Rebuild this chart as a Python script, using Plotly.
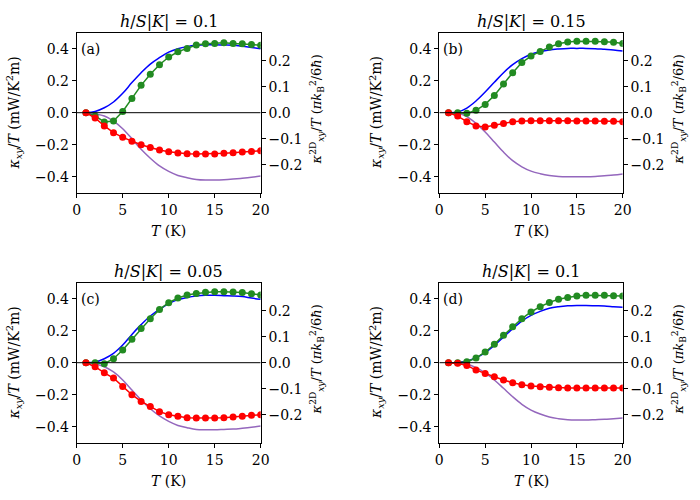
import plotly.graph_objects as go

T = list(range(1, 21))
T_span = [0, 20]
zero_level = [0, 0]

titles = ["<i>h</i>/<i>S</i>|<i>K</i>| = 0.1", "<i>h</i>/<i>S</i>|<i>K</i>| = 0.15",
          "<i>h</i>/<i>S</i>|<i>K</i>| = 0.05", "<i>h</i>/<i>S</i>|<i>K</i>| = 0.1"]
panel_labels = ["(a)", "(b)", "(c)", "(d)"]
x_ticks = [0, 5, 10, 15, 20]
left_ticks = [-0.4, -0.2, 0.0, 0.2, 0.4]
right_ticks = [-0.2, -0.1, 0.0, 0.1, 0.2]

green_a = [0, -0.02, -0.058, -0.052, 0.008, 0.088, 0.171, 0.24, 0.30, 0.348, 0.381, 0.402, 0.423, 0.431, 0.433, 0.437, 0.433, 0.431, 0.427, 0.421]
red_a = [0, -0.033, -0.083, -0.125, -0.154, -0.179, -0.2, -0.217, -0.233, -0.244, -0.252, -0.256, -0.258, -0.258, -0.258, -0.254, -0.25, -0.246, -0.242, -0.238]
blue_a = [0, 0.008, 0.031, 0.067, 0.121, 0.188, 0.25, 0.304, 0.344, 0.379, 0.40, 0.413, 0.421, 0.425, 0.425, 0.423, 0.421, 0.415, 0.408, 0.40]
purple_a = [0, -0.008, -0.021, -0.052, -0.10, -0.163, -0.229, -0.285, -0.333, -0.367, -0.392, -0.406, -0.417, -0.421, -0.421, -0.419, -0.415, -0.41, -0.404, -0.396]

green_b = [0, 0, -0.004, 0.015, 0.052, 0.108, 0.179, 0.25, 0.313, 0.354, 0.383, 0.41, 0.431, 0.442, 0.446, 0.446, 0.446, 0.444, 0.44, 0.433]
red_b = [0, -0.021, -0.056, -0.083, -0.09, -0.079, -0.067, -0.056, -0.052, -0.05, -0.05, -0.05, -0.05, -0.05, -0.052, -0.052, -0.052, -0.054, -0.054, -0.056]
blue_b = [0, 0.004, 0.029, 0.073, 0.129, 0.19, 0.25, 0.30, 0.338, 0.365, 0.381, 0.392, 0.398, 0.402, 0.402, 0.402, 0.40, 0.396, 0.392, 0.385]
purple_b = [0, -0.004, -0.025, -0.067, -0.121, -0.183, -0.246, -0.30, -0.338, -0.365, -0.381, -0.392, -0.398, -0.40, -0.40, -0.40, -0.398, -0.394, -0.39, -0.383]

green_c = [0, 0, -0.006, 0.025, 0.079, 0.146, 0.213, 0.275, 0.333, 0.375, 0.404, 0.423, 0.433, 0.44, 0.444, 0.444, 0.442, 0.438, 0.431, 0.423]
red_c = [0, -0.025, -0.063, -0.096, -0.148, -0.2, -0.242, -0.273, -0.306, -0.325, -0.335, -0.344, -0.346, -0.346, -0.346, -0.344, -0.34, -0.335, -0.329, -0.325]
blue_c = [0, 0.004, 0.025, 0.058, 0.11, 0.177, 0.238, 0.292, 0.333, 0.369, 0.394, 0.408, 0.417, 0.421, 0.421, 0.419, 0.417, 0.413, 0.404, 0.396]
purple_c = [0, -0.008, -0.025, -0.058, -0.108, -0.171, -0.233, -0.288, -0.333, -0.367, -0.392, -0.406, -0.417, -0.419, -0.419, -0.417, -0.415, -0.41, -0.404, -0.396]

green_d = [0, 0, 0.006, 0.029, 0.067, 0.115, 0.171, 0.225, 0.275, 0.317, 0.35, 0.377, 0.396, 0.408, 0.417, 0.421, 0.421, 0.421, 0.419, 0.417]
red_d = [0, -0.004, -0.017, -0.046, -0.067, -0.088, -0.108, -0.125, -0.138, -0.146, -0.15, -0.154, -0.156, -0.158, -0.158, -0.158, -0.158, -0.158, -0.158, -0.158]
blue_d = [0, 0.002, 0.01, 0.031, 0.063, 0.108, 0.16, 0.213, 0.26, 0.296, 0.321, 0.34, 0.35, 0.356, 0.358, 0.358, 0.356, 0.354, 0.35, 0.346]
purple_d = [0, -0.002, -0.01, -0.031, -0.063, -0.108, -0.16, -0.213, -0.26, -0.296, -0.321, -0.34, -0.35, -0.356, -0.358, -0.358, -0.356, -0.354, -0.35, -0.346]

panels = [(green_a, red_a, blue_a, purple_a), (green_b, red_b, blue_b, purple_b),
          (green_c, red_c, blue_c, purple_c), (green_d, red_d, blue_d, purple_d)]

xdoms = [[0.1096, 0.3724], [0.6276, 0.8896], [0.1096, 0.3724], [0.6276, 0.8896]]
ydoms = [[0.6146, 0.9346], [0.6146, 0.9346], [0.1146, 0.4346], [0.1146, 0.4346]]

FONT = "DejaVu Serif"
fig = go.Figure()
layout = dict(width=700, height=500, margin=dict(l=0, r=0, t=0, b=0),
              plot_bgcolor="white", paper_bgcolor="white", showlegend=False,
              font=dict(family=FONT, size=14, color="black"))
annotations = []

for i, (g, r, b, p) in enumerate(panels):
    n = i + 1
    xa = "x" if n == 1 else f"x{n}"
    ya = "y" if n == 1 else f"y{n}"
    yr = f"y{n+4}"
    fig.add_trace(go.Scatter(x=T_span, y=zero_level, mode="lines", line=dict(color="black", width=1),
                             xaxis=xa, yaxis=yr, hoverinfo="skip"))
    fig.add_trace(go.Scatter(x=T, y=b, mode="lines", line=dict(color="blue", width=1.5, shape="spline"), xaxis=xa, yaxis=ya))
    fig.add_trace(go.Scatter(x=T, y=p, mode="lines", line=dict(color="#9467bd", width=1.5, shape="spline"), xaxis=xa, yaxis=ya))
    fig.add_trace(go.Scatter(x=T, y=g, mode="lines+markers", line=dict(color="#228b22", width=1.5),
                             marker=dict(color="#228b22", size=7), xaxis=xa, yaxis=ya))
    fig.add_trace(go.Scatter(x=T, y=r, mode="lines+markers", line=dict(color="red", width=1.5),
                             marker=dict(color="red", size=7), xaxis=xa, yaxis=ya))

    common = dict(showline=True, linecolor="black", linewidth=1, ticks="outside", ticklen=4,
                  tickwidth=1, tickcolor="black", showgrid=False, automargin=False, zeroline=False,
                  tickfont=dict(family=FONT, size=14))
    layout[f"xaxis{n}"] = dict(domain=xdoms[i], anchor=ya, range=[0, 20], tickvals=x_ticks,
                               mirror=True, **common)
    layout[f"yaxis{n}"] = dict(domain=ydoms[i], anchor=xa, range=[-0.5, 0.5],
                               tickvals=left_ticks, tickformat=".1f", **common)
    layout[f"yaxis{n+4}"] = dict(overlaying=ya, anchor=xa, side="right", range=[-0.3077, 0.3077],
                                 tickvals=right_ticks, tickformat=".1f", **common)

    x0, x1 = xdoms[i]
    y0, y1 = ydoms[i]
    xc = (x0 + x1) / 2
    yc = (y0 + y1) / 2
    annotations.append(dict(text=titles[i], x=xc, y=y1 + 11 / 500, xref="paper", yref="paper",
                            showarrow=False, xanchor="center", yanchor="middle",
                            font=dict(family=FONT, size=16)))
    annotations.append(dict(text=panel_labels[i], x=x0 + 2 / 700, y=y1 - 16 / 500, xref="paper", yref="paper",
                            showarrow=False, xanchor="left", yanchor="middle",
                            font=dict(family=FONT, size=14)))
    annotations.append(dict(text="<i>T</i> (K)", x=xc, y=y0 - 38 / 500, xref="paper", yref="paper",
                            showarrow=False, xanchor="center", yanchor="middle",
                            font=dict(family=FONT, size=14)))
    annotations.append(dict(text="<i>κ<sub>xy</sub></i>/<i>T</i> (mW/K<sup>2</sup>m)",
                            x=x0 - 63 / 700, y=yc, xref="paper", yref="paper",
                            showarrow=False, xanchor="center", yanchor="middle", textangle=-90,
                            font=dict(family=FONT, size=14)))
    annotations.append(dict(text="<i>κ</i><sup>2D</sup><sub><i>xy</i></sub>/<i>T</i> (<i>πk</i><sub>B</sub><sup>2</sup>/6<i>ħ</i>)",
                            x=x1 + 56 / 700, y=yc + 3 / 500, xref="paper", yref="paper",
                            showarrow=False, xanchor="center", yanchor="middle", textangle=-90,
                            font=dict(family=FONT, size=13)))

layout["annotations"] = annotations
fig.update_layout(**layout)
fig.write_html("out.html", config={"displayModeBar": False},
               post_script="document.body.style.margin='0';document.body.style.overflow='hidden';")
